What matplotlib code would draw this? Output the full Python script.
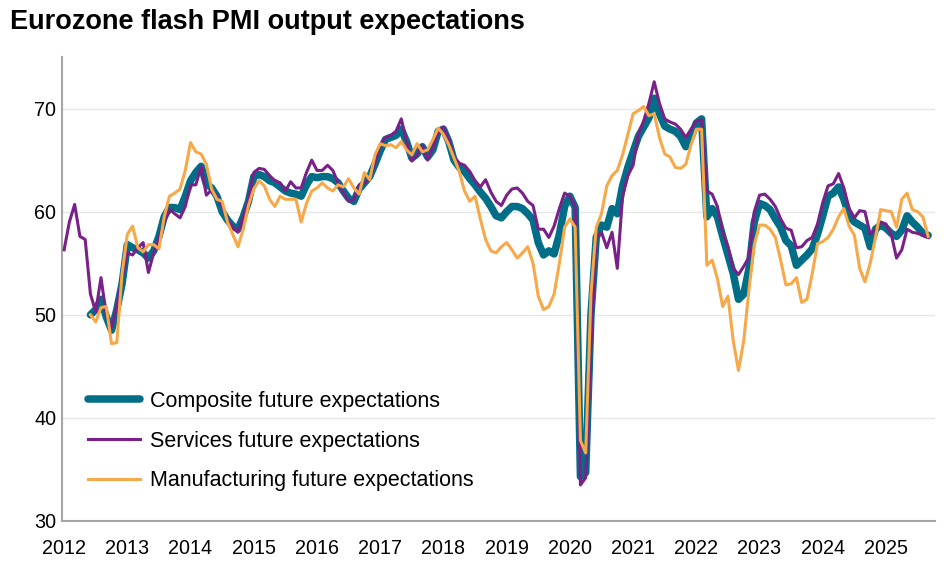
import matplotlib
matplotlib.use("Agg")
import matplotlib.pyplot as plt
import numpy as np

# Eurozone flash PMI future output expectations, monthly
# services series starts Jan 2012, composite + manufacturing start Jun 2012
years = list(range(2012, 2026))

services = [
    56.3, 59.0, 60.7, 57.6, 57.3, 52.0, 50.3, 53.6, 50.0, 48.8, 50.8, 53.5,
    56.0, 55.8, 56.5, 57.0, 54.1, 56.0, 57.5, 59.0, 60.2, 59.8, 59.4, 60.5,
    62.6, 62.6, 64.4, 61.6, 62.1, 61.5, 60.5, 59.2, 58.5, 58.0, 59.5, 61.2,
    63.8, 64.2, 64.1, 63.5, 63.0, 62.8, 62.0, 62.9, 62.3, 62.3, 63.8, 65.0,
    64.0, 64.0, 64.5, 64.0, 62.8, 61.8, 61.0, 61.2, 62.6, 62.8, 63.2, 64.7,
    66.5, 67.2, 67.4, 67.8, 69.0, 66.8, 64.9, 65.5, 66.4, 65.0, 66.2, 67.7,
    68.2, 67.0, 65.3, 64.7, 64.5, 63.9, 63.0, 62.4, 63.1, 61.9, 61.0, 60.6,
    61.6, 62.2, 62.3, 61.8, 61.0, 60.6, 58.3, 58.3, 57.5, 58.6, 60.3, 61.8,
    61.5, 60.5, 33.5, 34.2, 47.0, 57.5, 58.0, 56.5, 58.0, 54.5, 61.5, 63.5,
    64.5, 67.5, 68.8, 70.5, 72.6, 70.5, 69.0, 68.7, 68.5, 68.0, 67.2, 68.0,
    68.8, 68.9, 62.0, 61.7, 60.5, 58.0, 56.6, 54.5, 53.9, 54.7, 55.6, 60.0,
    61.6, 61.7, 61.2, 60.5, 59.3, 58.4, 58.2, 56.5, 56.6, 57.2, 57.5, 58.8,
    60.9, 62.5, 62.7, 63.7, 62.3, 60.3, 59.4, 60.1, 60.0, 57.8, 58.3, 59.0,
    58.8, 57.8, 55.5, 56.3, 58.3, 58.0, 57.9, 57.7, 57.5,
]

composite = [
    50.0, 50.5, 51.5, 49.8, 48.5, 50.5, 53.0,
    56.8, 56.5, 56.3, 56.0, 55.5, 56.2, 57.6, 59.5, 60.4, 60.4, 60.2, 61.5,
    63.0, 63.8, 64.4, 62.7, 62.3, 61.5, 60.0, 59.2, 58.6, 58.3, 59.5, 61.0,
    63.4, 63.6, 63.4, 63.0, 62.8, 62.4, 62.0, 61.8, 61.7, 61.5, 62.6, 63.4,
    63.3, 63.4, 63.4, 63.2, 62.8, 62.0, 61.3, 61.0, 62.2, 62.8, 63.4, 64.6,
    65.9, 67.0, 67.2, 67.4, 68.0, 66.8, 65.2, 65.6, 66.3, 65.3, 66.0, 67.8,
    68.0, 66.8, 65.0, 64.3, 63.9, 63.2, 62.6, 61.9, 61.3, 60.5, 59.6, 59.4,
    60.0, 60.5, 60.5, 60.3, 59.8, 59.2, 57.0, 55.8, 56.2, 55.9, 57.8, 60.5,
    61.5, 60.4, 34.3, 34.7, 50.0, 57.5, 58.7, 58.5, 60.3, 59.8, 62.5, 64.3,
    65.8, 67.3, 68.2, 69.1, 71.0, 69.5, 68.3, 68.0, 67.8, 67.3, 66.3, 67.2,
    68.6, 69.0, 59.5, 60.3, 59.5, 57.6, 55.8, 54.0, 51.5, 52.0, 54.5, 59.0,
    60.8, 60.6, 60.2, 59.3, 58.5, 57.2, 56.7, 54.8, 55.3, 55.8, 56.4, 57.8,
    59.6, 61.5, 61.8, 62.4, 61.2, 59.6, 59.0, 58.7, 58.4, 56.6, 58.3, 58.7,
    58.4, 57.9, 57.6, 58.2, 59.6, 59.0, 58.5, 57.9, 57.7,
]

manufacturing = [
    50.0, 49.3, 50.7, 50.8, 47.2, 47.3, 54.0,
    57.8, 58.6, 56.5, 56.1, 56.8, 56.8, 56.4, 59.5, 61.5, 61.8, 62.2, 64.0,
    66.7, 65.8, 65.6, 64.6, 62.2, 61.2, 61.0, 59.0, 57.8, 56.6, 58.3, 60.6,
    62.2, 63.0, 62.5, 61.2, 60.5, 61.5, 61.2, 61.2, 61.2, 59.0, 60.8, 62.0,
    62.3, 62.8, 62.3, 62.0, 62.6, 62.4, 63.2, 62.3, 61.7, 63.8, 63.1, 65.5,
    66.6, 66.4, 66.5, 66.2, 66.8, 66.0, 65.5, 66.6, 65.8, 66.0, 67.0, 68.1,
    67.5, 66.5, 65.2, 63.9, 62.0, 61.0, 61.5, 59.3, 57.3, 56.2, 56.0, 56.6,
    57.0, 56.3, 55.5, 56.0, 56.6, 55.0, 51.8, 50.5, 50.8, 52.0, 55.0, 58.5,
    59.3, 58.5, 37.8, 36.6, 52.0, 58.5, 59.8, 62.5, 63.5, 64.0, 65.5, 67.5,
    69.5, 69.8, 70.2, 69.3, 69.5, 67.2, 65.6, 65.3, 64.3, 64.2, 64.6, 66.5,
    68.0, 68.0, 54.8, 55.3, 53.5, 50.8, 51.8, 47.5, 44.6, 47.5, 52.5, 56.8,
    58.7, 58.7, 58.3, 57.5, 55.3, 52.9, 53.0, 53.6, 51.2, 51.5, 54.0, 56.9,
    57.1, 57.5, 58.3, 59.5, 60.3, 58.6, 57.7, 54.5, 53.2, 55.0, 57.5, 60.2,
    60.1, 60.0, 58.5, 61.2, 61.8, 60.2, 60.0, 59.5, 57.6,
]

# month index from Jan 2012
x_serv = np.arange(len(services))
x_comp = np.arange(len(composite)) + 5
x_manu = np.arange(len(manufacturing)) + 5

plt.rcParams['font.family'] = ['Liberation Sans', 'DejaVu Sans']

fig = plt.figure(figsize=(9.48, 5.68), dpi=100)
ax = fig.add_axes([62/948, 1 - 521/568, (935-62)/948, (521-57)/568])

ax.plot(x_comp, composite, color='#006E87', lw=5.4, solid_capstyle='round',
        solid_joinstyle='round', label='Composite future expectations', zorder=3)
ax.plot(x_serv, services, color='#7A2189', lw=2.2, solid_joinstyle='round',
        label='Services future expectations', zorder=4)
ax.plot(x_manu, manufacturing, color='#F7A848', lw=2.2, solid_joinstyle='round',
        label='Manufacturing future expectations', zorder=5)

ax.set_ylim(30, 75)
ax.set_xlim(-0.4, 165.3)
ax.set_yticks([30, 40, 50, 60, 70])
ax.set_xticks([12 * i for i in range(len(years))])
ax.set_xticklabels([str(y) for y in years])
ax.tick_params(length=0, labelsize=14.2, colors='#000000')
ax.tick_params(axis='x', pad=13)
ax.tick_params(axis='y', pad=4)

ax.grid(axis='y', color='#E6E6E6', lw=1)
ax.set_axisbelow(True)
for s in ['top', 'right']:
    ax.spines[s].set_visible(False)
for s in ['left', 'bottom']:
    ax.spines[s].set_color('#A6A6A6')
    ax.spines[s].set_linewidth(1.5)

ax.legend(loc='upper left', bbox_to_anchor=(88/948, 1 - 391/568),
          bbox_transform=fig.transFigure, frameon=False, fontsize=15.5,
          handlelength=2.4, handletextpad=0.47, labelspacing=0.87,
          borderpad=0, borderaxespad=0)

fig.text(10/948, 1 - 22/568, 'Eurozone flash PMI output expectations',
         fontsize=19.5, fontweight='bold', va='center', ha='left')

fig.savefig('out.png', dpi=100)
